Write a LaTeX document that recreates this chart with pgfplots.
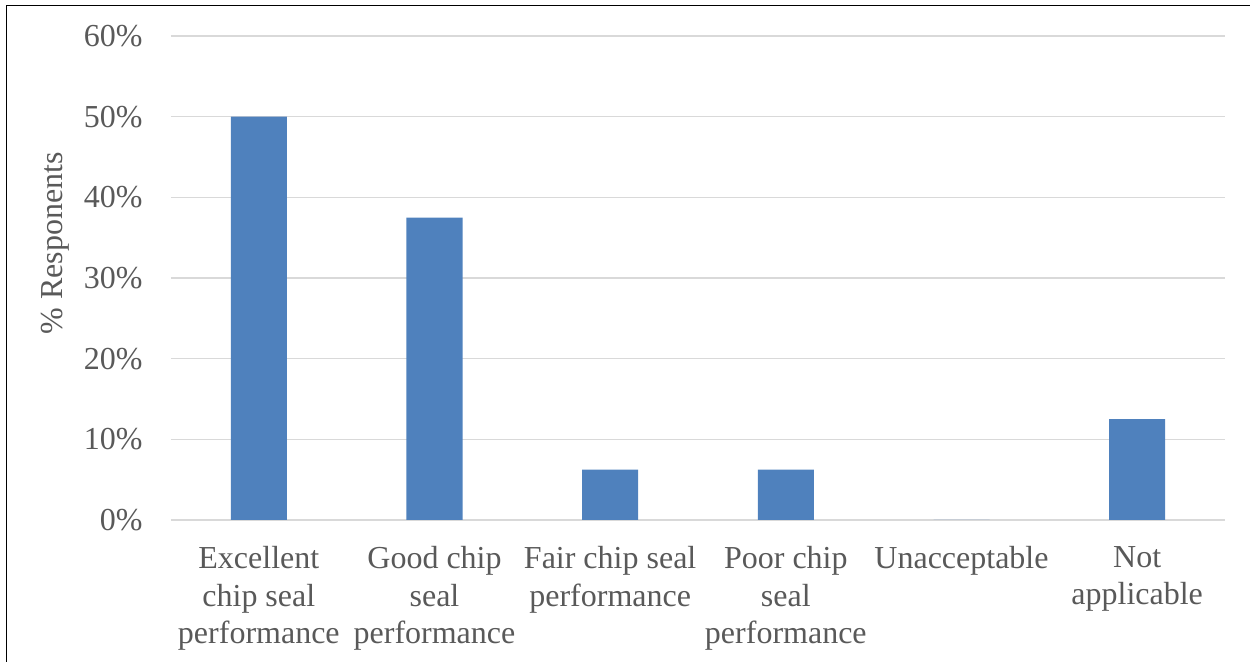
\documentclass[border=0pt]{standalone}
\usepackage{fontspec}
\setmainfont{Liberation Serif}
\usepackage{pgfplots}
\pgfplotsset{compat=1.18}
\definecolor{barblue}{HTML}{4F81BD}
\definecolor{txtgray}{HTML}{595959}
\definecolor{gridgray}{HTML}{D9D9D9}
\begin{document}
\begin{tikzpicture}
\useasboundingbox (-85.5pt,-71pt) rectangle (541pt,260pt);
\draw[line width=0.75pt, black] (-82.25pt,-72pt) -- (-82.25pt,257.25pt) -- (539.5pt,257.25pt);
\begin{axis}[
  scale only axis,
  width=527pt, height=242pt,
  at={(0,0)}, anchor=south west,
  xmin=-0.5, xmax=5.5,
  ymin=0, ymax=60,
  ytick={0,10,20,30,40,50,60},
  yticklabel={\pgfmathprintnumber{\tick}\%},
  /pgf/number format/assume math mode=true,
  xtick={0,1,2,3,4,5},
  xticklabels={{Excellent\\chip seal\\performance},{Good chip\\seal\\performance},{Fair chip seal\\performance},{Poor chip\\seal\\performance},{Unacceptable},{Not\\applicable}},
  xticklabel style={align=center, anchor=north, inner sep=0pt, yshift=-13pt, text=txtgray, font=\fontsize{16}{18.75}\selectfont},
  yticklabel style={anchor=east, inner sep=0pt, xshift=-14pt, text=txtgray, font=\fontsize{16}{18.75}\selectfont},
  axis line style={draw=none},
  major tick length=0pt,
  ymajorgrids,
  grid style={draw=gridgray, line width=0.75pt},
  ylabel={\% Responents},
  every axis y label/.style={at={(axis description cs:-0.11,0.572)}, rotate=90, anchor=center, text=txtgray, font=\fontsize{16}{18.75}\selectfont},
  ybar,
  bar width=28pt,
  clip=false,
]
\addplot[fill=barblue, draw=none] coordinates {(0,50) (1,37.5) (2,6.25) (3,6.25) (4,0) (5,12.5)};
\end{axis}
\end{tikzpicture}
\end{document}
